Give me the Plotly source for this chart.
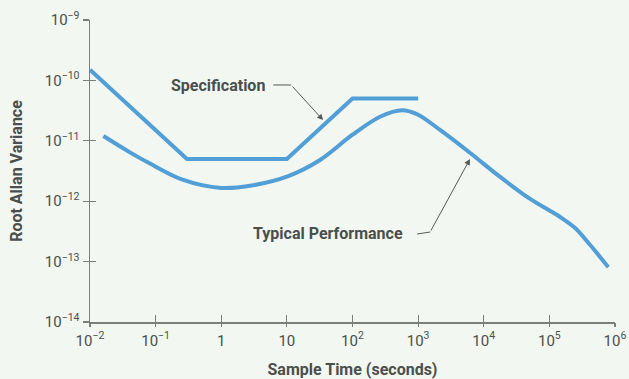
import numpy as np
import plotly.graph_objects as go

# ---------------- data ----------------
spec_x = [0.01, 0.3, 10, 100, 1000]
spec_y = [1.5e-10, 5.0e-12, 5.0e-12, 5.0e-11, 5.0e-11]

typ_x = [0.016, 0.04, 0.082, 0.25, 1.0, 2.75, 10.5, 32, 100, 263, 570, 1000,
         2160, 6210, 1.78e4, 5.09e4, 1.46e5, 2.47e5, 4.19e5, 7.9e5]
typ_y = [1.2e-11, 6.5e-12, 4.2e-12, 2.3e-12, 1.66e-12, 1.8e-12, 2.6e-12, 4.8e-12,
         1.26e-11, 2.5e-11, 3.2e-11, 2.7e-11, 1.51e-11, 6.28e-12, 2.52e-12, 1.09e-12,
         5.47e-13, 3.6e-13, 1.88e-13, 8.1e-14]

x_tickvals = [1e-2, 1e-1, 1, 10, 1e2, 1e3, 1e4, 1e5, 1e6]
x_ticktext = ["10<sup>−2</sup>", "10<sup>−1</sup>", "1", "10", "10<sup>2</sup>",
              "10<sup>3</sup>", "10<sup>4</sup>", "10<sup>5</sup>", "10<sup>6</sup>"]
y_tickvals = [1e-14, 1e-13, 1e-12, 1e-11, 1e-10, 1e-9]
y_ticktext = ["10<sup>−14</sup>", "10<sup>−13</sup>", "10<sup>−12</sup>",
              "10<sup>−11</sup>", "10<sup>−10</sup>", "10<sup>−9</sup>"]

# leader lines (data coords) and label anchors
spec_label = ("Specification", 0.89, 8.1e-11)
spec_leader_x = [6.2, 11.6]
spec_leader_y = [8.4e-11, 8.4e-11]
spec_tip = (35.7, 2.2e-11)

typ_label = ("Typical Performance", 42.5, 2.97e-13)
typ_leader_x = [966, 1524]
typ_leader_y = [2.86e-13, 3.09e-13]
typ_tip = (6170, 5.0e-12)

LINE = "#519fd6"
BG = "#f2f7f2"
AX = "#7a7f7c"
TXT = "#4a4f4d"
FONT = "Roboto, Arial, sans-serif"

fig = go.Figure()
fig.add_trace(go.Scatter(x=spec_x, y=spec_y, mode="lines",
                         line=dict(color=LINE, width=4), hoverinfo="skip"))
fig.add_trace(go.Scatter(x=typ_x, y=typ_y, mode="lines",
                         line=dict(color=LINE, width=4, shape="spline", smoothing=0.9),
                         hoverinfo="skip"))
fig.add_trace(go.Scatter(x=spec_leader_x, y=spec_leader_y, mode="lines",
                         line=dict(color="#555a58", width=1), hoverinfo="skip"))
fig.add_trace(go.Scatter(x=typ_leader_x, y=typ_leader_y, mode="lines",
                         line=dict(color="#555a58", width=1), hoverinfo="skip"))
# invisible trace to activate overlay axes (for ticks crossing the axis line)
fig.add_trace(go.Scatter(x=[1e-2], y=[1e-14], xaxis="x2", yaxis="y2", mode="markers",
                         marker=dict(opacity=0), hoverinfo="skip"))

fig.add_annotation(x=np.log10(spec_tip[0]), y=np.log10(spec_tip[1]),
                   ax=np.log10(spec_leader_x[-1]), ay=np.log10(spec_leader_y[-1]),
                   axref="x", ayref="y", xref="x", yref="y", text="",
                   showarrow=True, arrowhead=2, arrowsize=1.2, arrowwidth=1,
                   arrowcolor="#555a58")
fig.add_annotation(x=np.log10(typ_tip[0]), y=np.log10(typ_tip[1]),
                   ax=np.log10(typ_leader_x[-1]), ay=np.log10(typ_leader_y[-1]),
                   axref="x", ayref="y", xref="x", yref="y", text="",
                   showarrow=True, arrowhead=2, arrowsize=1.2, arrowwidth=1,
                   arrowcolor="#555a58")
for txt, lx, ly in (spec_label, typ_label):
    fig.add_annotation(x=np.log10(lx), y=np.log10(ly), xref="x", yref="y",
                       text="<b>" + txt + "</b>", showarrow=False,
                       font=dict(family=FONT, size=16, color=TXT))

fig.update_layout(
    width=629, height=379,
    margin=dict(l=90, r=14, t=20, b=57, autoexpand=False),
    paper_bgcolor=BG, plot_bgcolor=BG,
    showlegend=False,
    font=dict(family=FONT, color=TXT, size=13),
    xaxis=dict(type="log", range=[-2, 6], tickvals=x_tickvals, ticktext=x_ticktext,
               automargin=False, ticklabelstandoff=4,
               showgrid=False, zeroline=False, showline=True, linecolor=AX, linewidth=1.5,
               ticks="inside", ticklen=7, tickcolor=AX, tickwidth=1.2,
               tickfont=dict(family=FONT, size=15, color=TXT),
               title=dict(text="<b>Sample Time (seconds)</b>", standoff=20,
                          font=dict(family=FONT, size=16, color=TXT))),
    yaxis=dict(type="log", range=[-14, -9], tickvals=y_tickvals, ticktext=y_ticktext,
               automargin=False,
               showgrid=False, zeroline=False, showline=True, linecolor=AX, linewidth=1.5,
               ticks="outside", ticklen=6, tickcolor=AX, tickwidth=1.2,
               tickfont=dict(family=FONT, size=15, color=TXT),
               title=dict(text="<b>Root Allan Variance</b>", standoff=18,
                          font=dict(family=FONT, size=16, color=TXT))),
    xaxis2=dict(type="log", range=[-2, 6], overlaying="x", tickvals=x_tickvals,
                showticklabels=False, showgrid=False, zeroline=False, showline=False,
                automargin=False,
                ticks="outside", ticklen=4, tickcolor=AX, tickwidth=1.2),
    yaxis2=dict(type="log", range=[-14, -9], overlaying="y", tickvals=y_tickvals,
                showticklabels=False, showgrid=False, zeroline=False, showline=False,
                automargin=False,
                ticks="inside", ticklen=6, tickcolor=AX, tickwidth=1.2),
)

fig.write_html(
    "out.html",
    config={"displayModeBar": False, "staticPlot": True},
    post_script="document.body.style.margin='0';document.body.style.overflow='hidden';"
                "document.body.style.background='" + BG + "';",
)
